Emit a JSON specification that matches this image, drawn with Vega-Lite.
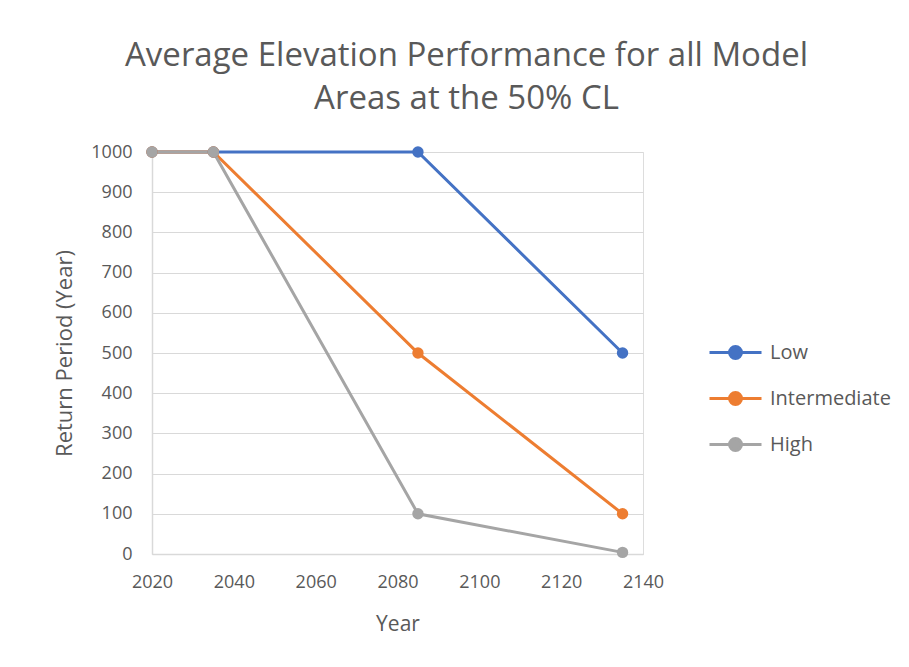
{
  "$schema": "https://vega.github.io/schema/vega-lite/v6.json",
  "width": 491,
  "height": 402,
  "autosize": {"type": "none"},
  "padding": {"left": 152, "top": 152, "right": 266, "bottom": 113},
  "background": "white",
  "title": {
    "text": ["Average Elevation Performance for all Model", "Areas at the 50% CL"],
    "font": "Open Sans",
    "fontSize": 33,
    "fontWeight": "normal",
    "color": "#595959",
    "anchor": "middle",
    "dx": 69,
    "lineHeight": 43,
    "offset": 27
  },
  "data": {
    "values": [
      {"year": 2020, "rp": 1000, "scenario": "Low"},
      {"year": 2035, "rp": 1000, "scenario": "Low"},
      {"year": 2085, "rp": 1000, "scenario": "Low"},
      {"year": 2135, "rp": 500, "scenario": "Low"},
      {"year": 2020, "rp": 1000, "scenario": "Intermediate"},
      {"year": 2035, "rp": 1000, "scenario": "Intermediate"},
      {"year": 2085, "rp": 500, "scenario": "Intermediate"},
      {"year": 2135, "rp": 100, "scenario": "Intermediate"},
      {"year": 2020, "rp": 1000, "scenario": "High"},
      {"year": 2035, "rp": 1000, "scenario": "High"},
      {"year": 2085, "rp": 100, "scenario": "High"},
      {"year": 2135, "rp": 4, "scenario": "High"}
    ]
  },
  "mark": {
    "type": "line",
    "strokeWidth": 3,
    "point": {"filled": true, "size": 130, "opacity": 1}
  },
  "encoding": {
    "x": {
      "field": "year",
      "type": "quantitative",
      "scale": {"domain": [2020, 2140], "nice": false, "zero": false},
      "axis": {
        "values": [2020, 2040, 2060, 2080, 2100, 2120, 2140],
        "format": "d",
        "title": "Year",
        "grid": false,
        "ticks": false,
        "domainColor": "#D9D9D9",
        "domainWidth": 1.5,
        "labelFont": "Open Sans",
        "labelFontSize": 18,
        "labelColor": "#595959",
        "labelPadding": 19,
        "labelFlush": false,
        "titleFont": "Open Sans",
        "titleFontSize": 21,
        "titleFontWeight": "normal",
        "titleColor": "#595959",
        "titlePadding": 22
      }
    },
    "y": {
      "field": "rp",
      "type": "quantitative",
      "scale": {"domain": [0, 1000], "nice": false},
      "axis": {
        "values": [0, 100, 200, 300, 400, 500, 600, 700, 800, 900, 1000],
        "format": "d",
        "title": "Return Period (Year)",
        "grid": true,
        "gridColor": "#D9D9D9",
        "gridWidth": 1.2,
        "ticks": false,
        "domainColor": "#D9D9D9",
        "domainWidth": 1.5,
        "labelFont": "Open Sans",
        "labelFontSize": 18,
        "labelColor": "#595959",
        "labelPadding": 20,
        "titleFont": "Open Sans",
        "titleFontSize": 22,
        "titleFontWeight": "normal",
        "titleColor": "#595959",
        "titlePadding": 14
      }
    },
    "color": {
      "field": "scenario",
      "type": "nominal",
      "scale": {
        "domain": ["Low", "Intermediate", "High"],
        "range": ["#4472C4", "#ED7D31", "#A5A5A5"]
      },
      "legend": {
        "title": null,
        "orient": "none",
        "legendX": 569,
        "legendY": 186,
        "padding": 0,
        "symbolType": "M-2,0H2M-0.46,0A0.46,0.46 0 1,1 0.46,0A0.46,0.46 0 1,1 -0.46,0",
        "symbolSize": 676,
        "symbolStrokeWidth": 3,
        "rowPadding": 19,
        "labelOffset": 20,
        "labelFont": "Open Sans",
        "labelFontSize": 20,
        "labelColor": "#595959",
        "encode": {
          "symbols": {
            "update": {
              "fill": {"scale": "color", "field": "value"},
              "stroke": {"scale": "color", "field": "value"},
              "opacity": {"value": 1}
            }
          }
        }
      }
    },
    "order": {"field": "year", "type": "quantitative"}
  }
}
